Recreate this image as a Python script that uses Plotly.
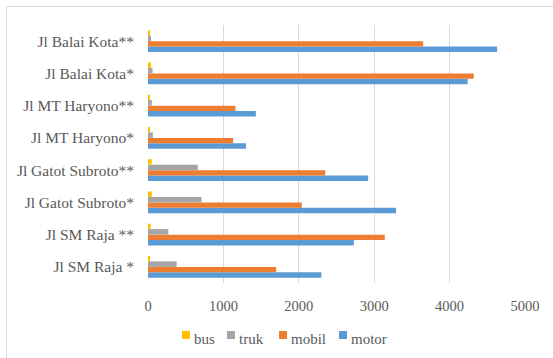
import plotly.graph_objects as go

# Road segments, listed bottom to top as they appear on the category axis
roads = [
    "Jl SM Raja *",
    "Jl SM Raja **",
    "Jl Gatot Subroto*",
    "Jl Gatot Subroto**",
    "Jl MT Haryono*",
    "Jl MT Haryono**",
    "Jl Balai Kota*",
    "Jl Balai Kota**",
]

# Vehicle counts per road segment
motor = [2300, 2730, 3290, 2920, 1300, 1430, 4240, 4630]
mobil = [1700, 3140, 2040, 2350, 1130, 1160, 4320, 3650]
truk = [380, 270, 710, 660, 65, 50, 60, 40]
bus = [20, 35, 50, 50, 20, 20, 40, 20]

x_ticks = [0, 1000, 2000, 3000, 4000, 5000]

font_family = "Liberation Serif"
text_color = "#595959"

series = [
    ("motor", motor, "#5B9BD5"),
    ("mobil", mobil, "#ED7D31"),
    ("truk", truk, "#A5A5A5"),
    ("bus", bus, "#FFC000"),
]

# Plot area geometry in pixels
W, H = 553, 358
ML, MR, MT, MB = 148, 28, 25, 75
PW, PH = W - ML - MR, H - MT - MB


def px_x(px):
    return (px - ML) / PW


def px_y(py):
    return (H - MB - py) / PH


fig = go.Figure()
# Traces added bottom-up within each group: motor lowest, bus on top
for name, vals, color in series:
    fig.add_trace(go.Bar(
        y=roads, x=vals, name=name, orientation="h",
        marker=dict(color=color, line=dict(width=0)),
    ))

# Legend row: swatch + label for each series, left to right
legend_items = [("bus", "#FFC000", 182), ("truk", "#A5A5A5", 227),
                ("mobil", "#ED7D31", 279), ("motor", "#5B9BD5", 339)]
shapes = [
    # Chart frame
    dict(type="rect", xref="paper", yref="paper",
         x0=px_x(6.5), x1=px_x(600), y0=px_y(400), y1=px_y(6.5),
         line=dict(color="#D9D9D9", width=1), fillcolor="rgba(0,0,0,0)",
         layer="below"),
]
annotations = []
for label, color, x0 in legend_items:
    shapes.append(dict(type="rect", xref="paper", yref="paper",
                       x0=px_x(x0), x1=px_x(x0 + 8), y0=px_y(339), y1=px_y(331),
                       line=dict(width=0), fillcolor=color))
    annotations.append(dict(text=label, xref="paper", yref="paper",
                            x=px_x(x0 + 10), y=px_y(338.5), xanchor="left",
                            yanchor="middle", showarrow=False,
                            font=dict(family=font_family, size=15, color=text_color)))

fig.update_layout(
    width=W, height=H,
    margin=dict(l=ML, r=MR, t=MT, b=MB),
    paper_bgcolor="white", plot_bgcolor="white",
    barmode="group", bargap=0.32, bargroupgap=0,
    font=dict(family=font_family, size=14, color=text_color),
    showlegend=False,
    xaxis=dict(
        range=[0, 5000], tickvals=x_ticks, ticktext=[str(v) for v in x_ticks],
        showgrid=True, gridcolor="#D9D9D9", gridwidth=1,
        zeroline=False, showline=False, ticks="",
        ticklabelstandoff=12,
        tickfont=dict(family=font_family, size=14.5, color=text_color),
    ),
    yaxis=dict(
        type="category", categoryorder="array", categoryarray=roads,
        showgrid=False, zeroline=False, showline=False, ticks="",
        ticklabelstandoff=13,
        tickfont=dict(family=font_family, size=15.5, color=text_color),
    ),
    shapes=shapes,
    annotations=annotations,
)

fig.write_html("out.html")
